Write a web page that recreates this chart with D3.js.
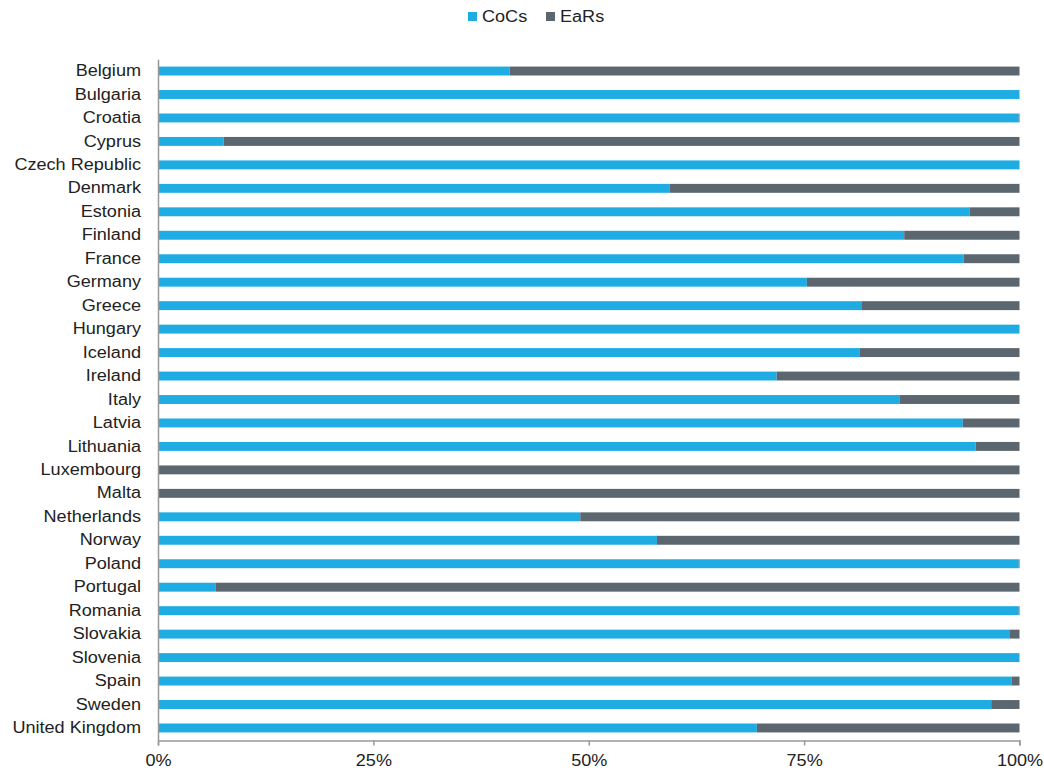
<!DOCTYPE html>
<html lang="en">
  <head>
    <meta charset="UTF-8" />
    <title>CoCs vs EaRs</title>
    <style>
      body { margin: 0; background: #fff; }
      svg text { font-family: "Liberation Sans", Arial, sans-serif; fill: #222; }
    </style>
  </head>
  <body>
    <script src="https://cdn.jsdelivr.net/npm/d3@7"></script>
    <script>
      var countries = ["Belgium", "Bulgaria", "Croatia", "Cyprus", "Czech Republic", "Denmark",
        "Estonia", "Finland", "France", "Germany", "Greece", "Hungary", "Iceland", "Ireland",
        "Italy", "Latvia", "Lithuania", "Luxembourg", "Malta", "Netherlands", "Norway",
        "Poland", "Portugal", "Romania", "Slovakia", "Slovenia", "Spain", "Sweden", "United Kingdom"];

      // share of CoCs in percent; EaRs is the remainder
      var cocs = [40.7, 100, 99.8, 7.5, 100, 59.3, 94.1, 86.5, 93.4, 75.2, 81.6, 100, 81.3, 71.7,
        86.0, 93.3, 94.8, 0, 0, 48.9, 57.8, 99.8, 6.6, 99.8, 98.7, 100, 99.0, 96.6, 69.4];
      var ears = cocs.map(function(v) { return 100 - v; });

      var seriesNames = ["CoCs", "EaRs"];
      var colors = ["#1eace3", "#5b666f"];
      var tickValues = [0, 25, 50, 75, 100];

      var w = 1044, h = 773;
      var plotLeft = 158, plotRight = 1019.5;
      var bandTop = 59.3, bandBottom = 739.7, axisY = 740.5;
      var stretch = 1.13; // labels in the original are slightly wide

      var svg = d3.select("body").append("svg")
                  .attr("width", w)
                  .attr("height", h);

      var xScale = d3.scaleLinear()
                     .domain([0, 100])
                     .range([plotLeft, plotRight]);

      var yScale = d3.scaleBand()
                     .domain(countries)
                     .range([bandTop, bandBottom])
                     .paddingInner(0.62)
                     .paddingOuter(0.31);

      var rows = countries.map(function(c, i) {
        return { country: c, CoCs: cocs[i], EaRs: ears[i] };
      });

      var stacked = d3.stack().keys(seriesNames)(rows);

      svg.selectAll("g.series")
         .data(stacked)
         .enter()
         .append("g")
         .attr("class", "series")
         .attr("fill", function(d, i) { return colors[i]; })
         .selectAll("rect")
         .data(function(d) { return d; })
         .enter()
         .append("rect")
         .attr("x", function(d) { return xScale(d[0]) + 1; })
         .attr("y", function(d) { return yScale(d.data.country); })
         .attr("width", function(d) { return Math.max(0, xScale(d[1]) - xScale(d[0]) - (d[1] === 100 ? 1 : 0)); })
         .attr("height", yScale.bandwidth());

      // x axis
      var xAxis = svg.append("g")
         .attr("transform", "translate(0," + axisY + ")")
         .call(d3.axisBottom(xScale)
                 .tickValues(tickValues)
                 .tickSize(5)
                 .tickFormat(function(d) { return d + "%"; }));
      xAxis.select(".domain").attr("stroke", "#999").attr("stroke-width", 1.5);
      xAxis.selectAll(".tick line").attr("stroke", "#999").attr("stroke-width", 1.5);
      xAxis.selectAll("text")
           .attr("font-size", "16px")
           .attr("y", 14)
           .attr("dy", "0.71em")
           .attr("transform", "scale(" + stretch + ",1)");

      // y axis
      var yAxis = svg.append("g")
         .attr("transform", "translate(" + plotLeft + ",0)")
         .call(d3.axisLeft(yScale).tickSize(0));
      yAxis.select(".domain").attr("stroke", "#999").attr("stroke-width", 1.5);
      yAxis.selectAll("text")
           .attr("font-size", "16px")
           .attr("x", -17 / stretch)
           .attr("transform", "scale(" + stretch + ",1)");

      // legend
      var legendX = [468, 546];
      var items = svg.append("g")
         .selectAll("g")
         .data(seriesNames)
         .enter()
         .append("g")
         .attr("transform", function(d, i) { return "translate(" + legendX[i] + ",16.5)"; });
      items.append("rect")
         .attr("x", 0).attr("y", -4.5)
         .attr("width", 9).attr("height", 9)
         .attr("fill", function(d, i) { return colors[i]; });
      items.append("text")
         .attr("x", 14 / stretch).attr("y", 0)
         .attr("dy", "0.35em")
         .attr("font-size", "16px")
         .attr("transform", "scale(" + stretch + ",1)")
         .text(function(d) { return d; });
    </script>
  </body>
</html>
